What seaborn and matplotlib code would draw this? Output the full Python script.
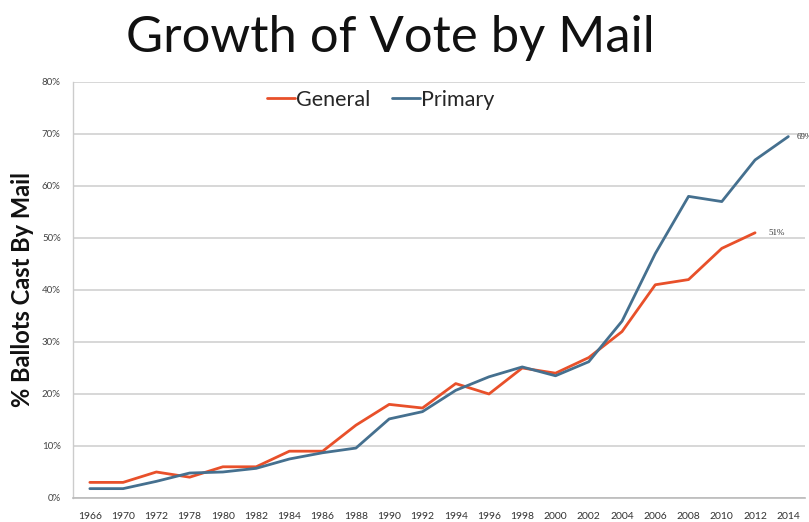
import matplotlib
matplotlib.use("Agg")
import matplotlib.pyplot as plt
import seaborn as sns
import pandas as pd
from matplotlib.lines import Line2D

years = ["1966", "1970", "1972", "1978", "1980", "1982", "1984", "1986", "1988", "1990", "1992",
         "1994", "1996", "1998", "2000", "2002", "2004", "2006", "2008", "2010", "2012", "2014"]
general = [3, 3, 5, 4, 6, 6, 9, 9, 14, 18, 17.3, 22, 20, 25, 24, 27, 32, 41, 42, 48, 51, None]
primary = [1.8, 1.8, 3.2, 4.8, 5.0, 5.7, 7.5, 8.7, 9.6, 15.2, 16.6, 20.7, 23.3, 25.2, 23.5, 26.2,
           34, 47, 58, 57, 65, 69.5]
yticks = [0, 10, 20, 30, 40, 50, 60, 70, 80]
ytick_labels = ["0%", "10%", "20%", "30%", "40%", "50%", "60%", "70%", "80%"]

RED = "#E8502A"
BLUE = "#45708F"

sns.set_theme(style="white")
plt.rcParams["font.family"] = ["Lato", "DejaVu Sans"]

df = pd.DataFrame({"year": years, "General": general, "Primary": primary})
long = df.melt(id_vars="year", var_name="series", value_name="pct").dropna()
long["x"] = long["year"].map({y: i for i, y in enumerate(years)})

fig = plt.figure(figsize=(8.09, 5.22), dpi=100)
ax = fig.add_axes([0.0905, 0.046, 0.9045, 0.797])

sns.lineplot(data=long, x="x", y="pct", hue="series", hue_order=["General", "Primary"],
             palette={"General": RED, "Primary": BLUE}, linewidth=2.0, ax=ax, legend=False)

ax.set_xlim(-0.5, len(years) - 0.5)
ax.set_ylim(0, 80)
ax.set_yticks(yticks)
ax.set_yticklabels(ytick_labels, fontsize=7, color="#444444")
ax.set_xticks(range(len(years)))
ax.set_xticklabels(years, fontsize=7.5, color="#333333")
ax.set_xticks([i + 0.5 for i in range(-1, len(years))], minor=True)
ax.tick_params(axis="x", which="major", length=0, pad=10)
ax.tick_params(axis="x", which="minor", length=3, color="#bbbbbb", width=0.8, direction="out")
ax.tick_params(axis="y", length=0, pad=9)
ax.grid(axis="y", color="#d4d4d4", linewidth=1.3)
ax.set_axisbelow(True)
for s in ["top", "right"]:
    ax.spines[s].set_visible(False)
ax.spines["left"].set_color("#cccccc")
ax.spines["bottom"].set_color("#bbbbbb")
ax.spines["left"].set_linewidth(1.0)
ax.spines["bottom"].set_linewidth(1.2)

ax.set_xlabel("")
ax.set_ylabel("% Ballots Cast By Mail", fontsize=17, fontweight="bold", color="#111111", labelpad=6)

# end labels
gi = max(i for i, v in enumerate(general) if v is not None)
ax.text(gi + 0.4, general[gi], f"{general[gi]:.0f}%", fontsize=6.5, va="center", ha="left",
        color="#333333", family=["Liberation Serif"])
pi = len(primary) - 1
ax.text(pi + 0.25, primary[pi], "69%", fontsize=6.5, va="center", ha="left",
        color="#333333", family=["Liberation Serif"], clip_on=False)

# legend
handles = [Line2D([0], [0], color=RED, lw=2), Line2D([0], [0], color=BLUE, lw=2)]
ax.legend(handles, ["General", "Primary"], loc="center", bbox_to_anchor=(0.42, 0.957),
          ncol=2, frameon=False, fontsize=15.5, handlelength=1.3, handletextpad=0.05,
          columnspacing=1.0)

fig.text(0.482, 0.927, "Growth of Vote by Mail", fontsize=36.5, ha="center", va="center",
         color="#111111")

fig.savefig("out.png", dpi=100)
